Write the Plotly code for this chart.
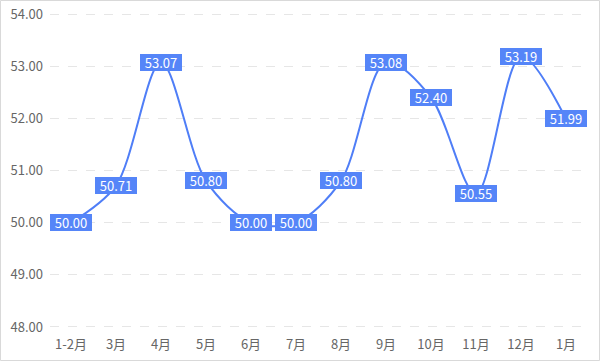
import plotly.graph_objects as go

categories = ["1-2月", "3月", "4月", "5月", "6月", "7月", "8月", "9月", "10月", "11月", "12月", "1月"]
values = [50.00, 50.71, 53.07, 50.80, 50.00, 50.00, 50.80, 53.08, 52.40, 50.55, 53.19, 51.99]
y_ticks = [48, 49, 50, 51, 52, 53, 54]

LINE = "#4f7ef7"
BOX = "#5585f8"
FONT = "Noto Sans CJK SC, Microsoft YaHei, sans-serif"

fig = go.Figure()
fig.add_trace(go.Scatter(
    x=categories, y=values, mode="lines",
    line=dict(color=LINE, width=2, shape="spline", smoothing=0.9),
    hoverinfo="x+y",
))

annotations = []
for c, v in zip(categories, values):
    annotations.append(dict(
        x=c, y=v, xref="x", yref="y", text=f"{v:.2f}", showarrow=False,
        font=dict(color="white", size=13, family=FONT),
        bgcolor=BOX, borderpad=0, bordercolor=BOX, borderwidth=1,
        width=40, height=15, align="center",
        xanchor="center", yanchor="middle",
    ))

L, R, T, B = 50, 13, 13, 33
pw, ph = 600 - L - R, 361 - T - B
fig.add_shape(type="rect", xref="paper", yref="paper",
              x0=(0.5 - L) / pw, x1=(599.5 - L) / pw,
              y0=(ph + T - 360.5) / ph, y1=(ph + T - 0.5) / ph,
              line=dict(color="#d9d9d9", width=1), layer="below")

fig.update_layout(
    width=600, height=361,
    margin=dict(l=L, r=R, t=T, b=B, autoexpand=False),
    paper_bgcolor="white", plot_bgcolor="white",
    showlegend=False,
    annotations=annotations,
    font=dict(family=FONT, size=13, color="#666666"),
    xaxis=dict(type="category", showgrid=False, showline=False, ticks="",
               ticklabelstandoff=7, automargin=False,
               tickfont=dict(size=13, color="#666666"), fixedrange=True),
    yaxis=dict(range=[47.98, 54.02], tickvals=y_ticks, tickformat=".2f",
               showgrid=True, gridcolor="#e6e6e6", griddash="dash", gridwidth=1,
               zeroline=False, showline=False, ticks="", ticklabelstandoff=6,
               automargin=False,
               tickfont=dict(size=13, color="#666666"), fixedrange=True),
)

post = ("document.documentElement.style.margin='0';"
        "document.body.style.margin='0';document.body.style.padding='0';"
        "document.body.style.overflow='hidden';"
        "var d=document.getElementById('{plot_id}');"
        "d.style.position='fixed';d.style.top='0px';d.style.left='0px';")

fig.write_html("out.html", config={"displayModeBar": False}, post_script=post)
